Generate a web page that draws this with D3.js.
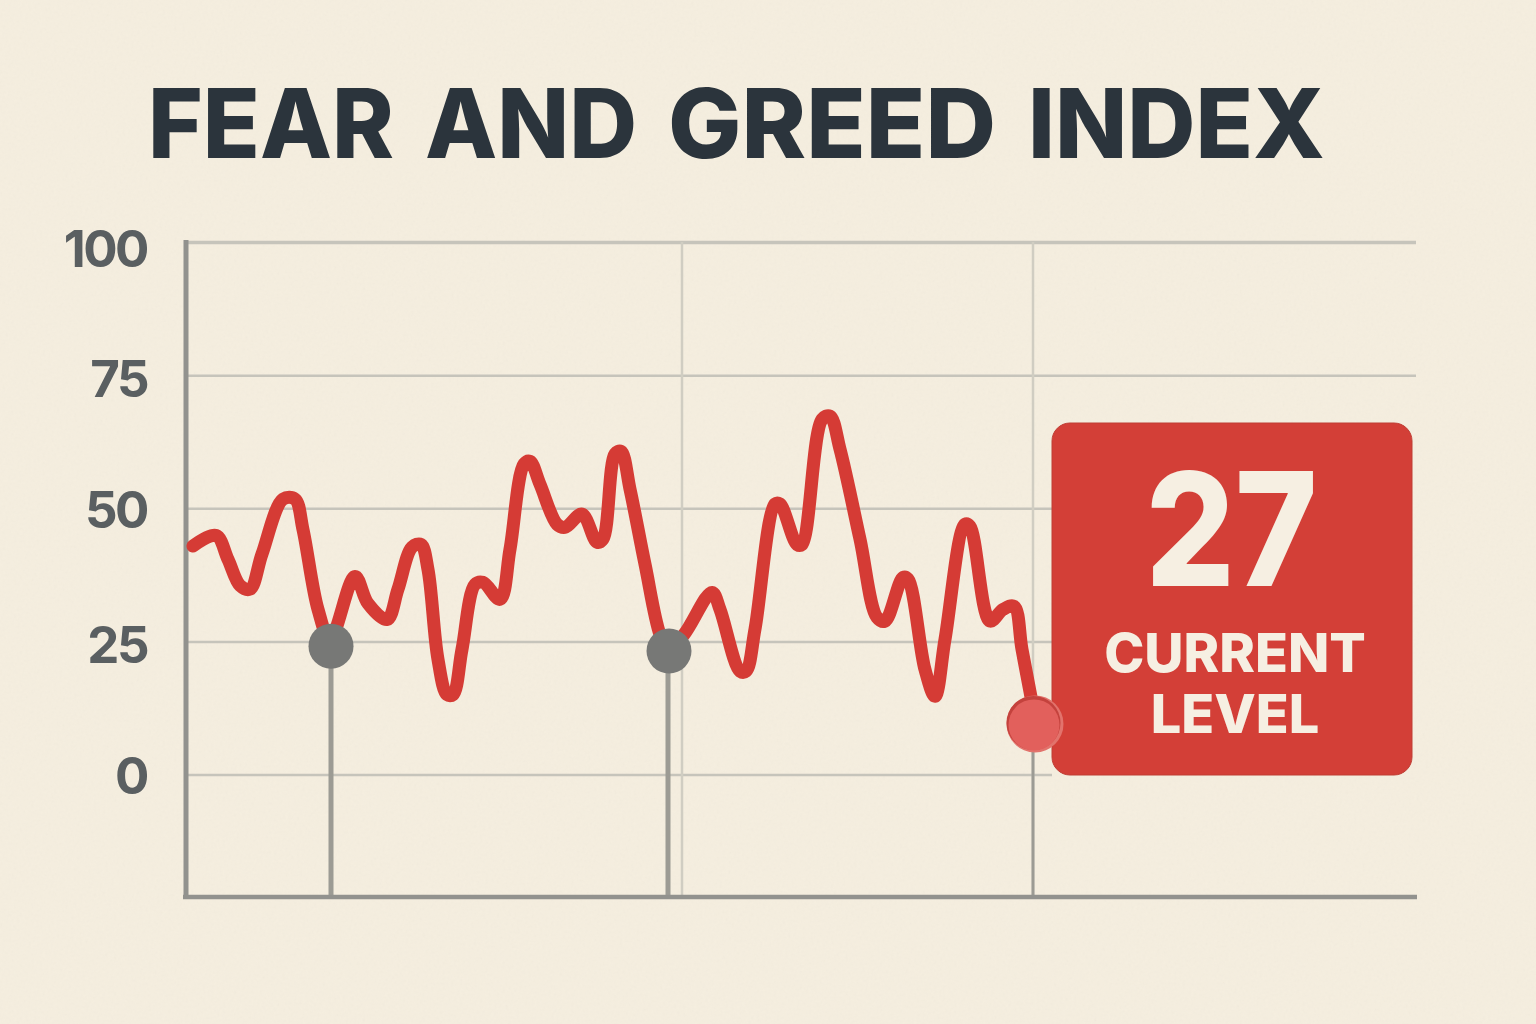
<!DOCTYPE html>
<html>
<head>
<meta charset="utf-8">
<script src="https://cdn.jsdelivr.net/npm/d3@7"></script>
<style>
  html, body { margin: 0; padding: 0; background: #f5eedf; }
  svg { display: block; }
</style>
</head>
<body>
<svg id="chart" width="1536" height="1024"></svg>
<script>
const yTicks = [0, 25, 50, 75, 100];
const xGridTicks = [49.6, 84.7];

// time position and index level of each point on the line
const times = [0.7, 3.0, 4.2, 5.4, 6.4, 7.6, 9.7, 10.9, 11.7, 13.2, 14.4, 16.9, 18.2, 20.1, 21.2, 22.6, 23.5, 24.2,
  25.2, 26.1, 26.7, 27.6, 28.9, 29.7, 31.4, 32.4, 33.8, 34.4, 35.4, 37.1, 37.9, 39.6, 41.1, 41.7, 42.9, 43.5, 44.4,
  45.9, 47.4, 48.2, 49.8, 52.6, 53.4, 55.4, 56.0, 56.9, 58.9, 59.4, 61.1, 61.6, 63.6, 64.4, 65.4, 67.4, 69.1, 69.9,
  71.7, 72.2, 73.9, 74.9, 75.9, 77.9, 78.4, 80.4, 81.7, 82.8, 83.6, 84.7];
const levels = [42.9, 44.9, 40.4, 35.5, 34.8, 41.4, 51.7, 51.7, 46, 31, 25.4, 37.2, 32.1, 29.1, 34.8, 42.7, 43.2, 38.5,
  21.6, 15, 15, 23.5, 35.7, 36.1, 32.9, 42.3, 58.3, 58.8, 54.5, 47, 46.4, 48.9, 43.6, 44.2, 60.2, 60.7, 53.6,
  39.5, 26.3, 23.5, 26.3, 34.2, 31, 19.4, 19.4, 27.3, 50.8, 50.8, 43.2, 43.2, 66.7, 67.3, 61.1, 44.2, 29.5, 28.8,
  37, 36.7, 19.7, 14.7, 25.4, 47, 46.6, 28.8, 31, 31.6, 23.5, 12.6];

const markerTimes = [14.5, 48.3];
const markerLevels = [24.1, 23.2];
const currentTime = 84.9;
const currentLevel = 9.5;
const stemTimes = [14.5, 48.2, 84.7];
const stemLevels = [24.1, 23.2, 9.5];

const currentValue = '27';
const currentLabel = ['CURRENT', 'LEVEL'];
const titleWords = ['FEAR', 'AND', 'GREED', 'INDEX'];

const plotLeft = 186, plotRight = 1416, plotTop = 242, plotBottom = 897;
const boxLeft = 1052;
const x = d3.scaleLinear().domain([0, 123]).range([plotLeft, plotRight]);
const y = d3.scaleLinear().domain([-23, 100]).range([plotBottom, plotTop]);

const svg = d3.select('#chart');
const font = 'Inter, "Open Sans", sans-serif';

// paper grain
const grain = svg.append('defs').append('filter').attr('id', 'grain');
grain.append('feTurbulence').attr('type', 'fractalNoise').attr('baseFrequency', 0.35).attr('numOctaves', 3);
grain.append('feColorMatrix').attr('type', 'saturate').attr('values', 0);

svg.append('rect').attr('width', 1536).attr('height', 1024).attr('fill', '#f5eedf');
svg.append('rect').attr('width', 1536).attr('height', 1024)
  .attr('filter', 'url(#grain)').attr('opacity', 0.04);

// each word is fitted on its own, the gaps in the title are uneven
const wordStarts = [148, 425, 668, 1028];
const wordWidths = [246, 212, 328, 297];
svg.selectAll('text.title')
  .data(titleWords)
  .join('text')
  .attr('class', 'title')
  .attr('x', (d, i) => wordStarts[i])
  .attr('y', 158)
  .attr('textLength', (d, i) => wordWidths[i])
  .attr('lengthAdjust', 'spacingAndGlyphs')
  .attr('font-family', font)
  .attr('font-size', 96)
  .attr('font-weight', 800)
  .attr('fill', '#2b343c')
  .text(d => d);

// horizontal grid + y labels
const yAxis = svg.append('g')
  .attr('transform', `translate(${plotLeft},0)`)
  .call(d3.axisLeft(y).tickValues(yTicks).tickSize(-(plotRight - plotLeft)).tickPadding(39));
yAxis.select('.domain').remove();
yAxis.selectAll('line')
  .attr('stroke', '#c6c4bb')
  .attr('stroke-width', d => d === 100 ? 3.5 : 2.5)
  // the three lower lines stop at the box
  .attr('x2', d => d <= 50 ? boxLeft - plotLeft : plotRight - plotLeft);
const labelNudge = { 0: 3, 25: 5, 50: 3, 75: 5, 100: 8 };
yAxis.selectAll('text')
  .attr('font-family', font)
  .attr('font-size', 51)
  .attr('font-weight', 700)
  .attr('fill', '#5a5f61')
  .attr('letter-spacing', -2.5)
  .attr('y', d => labelNudge[d]);

// vertical grid
svg.selectAll('line.vgrid')
  .data(xGridTicks)
  .join('line')
  .attr('class', 'vgrid')
  .attr('x1', d => x(d)).attr('x2', d => x(d))
  .attr('y1', plotTop).attr('y2', plotBottom)
  .attr('stroke', '#d0cdc2')
  .attr('stroke-width', 2.5);

// stems under the markers
svg.selectAll('line.stem')
  .data(stemTimes)
  .join('line')
  .attr('class', 'stem')
  .attr('x1', d => x(d)).attr('x2', d => x(d))
  .attr('y1', (d, i) => y(stemLevels[i])).attr('y2', plotBottom)
  .attr('stroke', '#9c9b94')
  .attr('stroke-width', (d, i) => i === 2 ? 3 : 5);

// axis lines
svg.append('line')
  .attr('x1', plotLeft).attr('x2', plotLeft).attr('y1', plotTop - 2).attr('y2', plotBottom + 2)
  .attr('stroke', '#92928e').attr('stroke-width', 5);
svg.append('line')
  .attr('x1', plotLeft - 3).attr('x2', plotRight + 1).attr('y1', plotBottom).attr('y2', plotBottom)
  .attr('stroke', '#92928e').attr('stroke-width', 4.5);

const line = d3.line()
  .x((d, i) => x(times[i]))
  .y(d => y(d))
  .curve(d3.curveCatmullRom.alpha(0.5));

svg.append('path')
  .datum(levels)
  .attr('d', line)
  .attr('fill', 'none')
  .attr('stroke', '#d53b35')
  .attr('stroke-width', 13)
  .attr('stroke-linejoin', 'round')
  .attr('stroke-linecap', 'round');

svg.selectAll('circle.marker')
  .data(markerLevels)
  .join('circle')
  .attr('class', 'marker')
  .attr('cx', (d, i) => x(markerTimes[i]))
  .attr('cy', d => y(d))
  .attr('r', 22.5)
  .attr('fill', '#777876');

// current level box
svg.append('rect')
  .attr('x', boxLeft).attr('y', 423)
  .attr('width', 360).attr('height', 352)
  .attr('rx', 18)
  .attr('fill', '#d33f37')
  .attr('stroke', '#bf3e35')
  .attr('stroke-width', 1);

svg.append('text')
  .attr('x', 1231.5).attr('y', 586)
  .attr('text-anchor', 'middle')
  .attr('textLength', 172)
  .attr('lengthAdjust', 'spacingAndGlyphs')
  .attr('font-family', font)
  .attr('font-size', 158)
  .attr('font-weight', 800)
  .attr('fill', '#f6efe2')
  .text(currentValue);

svg.selectAll('text.label')
  .data(currentLabel)
  .join('text')
  .attr('class', 'label')
  .attr('x', 1235)
  .attr('y', (d, i) => 672 + i * 61)
  .attr('text-anchor', 'middle')
  .attr('font-family', font)
  .attr('font-size', 54)
  .attr('font-weight', 800)
  .attr('fill', '#f6efe2')
  .text(d => d);

// current point: light rim, dark edge, face
svg.append('circle')
  .attr('cx', x(currentTime)).attr('cy', y(currentLevel))
  .attr('r', 28.5)
  .attr('fill', '#e2736c');
svg.append('circle')
  .attr('cx', x(currentTime) - 1.5).attr('cy', y(currentLevel) - 1)
  .attr('r', 27)
  .attr('fill', '#c4423d');
svg.append('circle')
  .attr('cx', x(currentTime) - 1).attr('cy', y(currentLevel) + 1)
  .attr('r', 25.5)
  .attr('fill', '#e2605c');
</script>
</body>
</html>
